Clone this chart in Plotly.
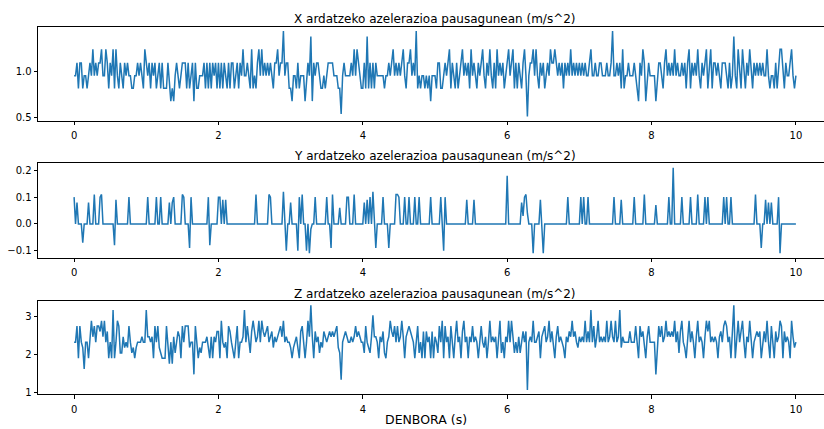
import numpy as np
import plotly.graph_objects as go

# Sampling interval of the accelerometer log (seconds)
DT = 0.02

# X-axis acceleration at rest, one row per 0.5 s (25 samples)
accel_x = [
    0.96, 0.96, 1.1, 0.82, 1.1, 1.1, 0.82, 0.96, 0.96, 0.82, 0.96, 1.1, 0.96, 1.25, 0.96, 1.1, 0.96, 1.1, 1.1, 1.25, 0.96, 0.96, 1.25, 1.1, 0.82,
    1.1, 0.96, 1.25, 0.82, 1.25, 0.96, 0.82, 1.1, 0.96, 0.82, 1.1, 0.96, 1.1, 0.96, 0.96, 0.82, 0.82, 0.96, 0.96, 1.1, 0.96, 1.1, 0.96, 0.82, 1.25,
    1.1, 0.96, 1.1, 0.82, 1.1, 0.96, 1.1, 0.82, 0.96, 1.1, 0.82, 1.1, 0.82, 0.82, 0.82, 1.1, 0.82, 0.68, 0.82, 0.68, 0.96, 1.1, 0.96, 0.82, 0.96,
    1.1, 1.1, 1.1, 0.82, 1.1, 0.82, 0.96, 1.1, 0.68, 1.1, 0.82, 0.82, 0.96, 0.96, 0.96, 1.1, 0.82, 1.1, 0.82, 1.1, 0.82, 1.1, 0.96, 1.1, 0.82,
    1.1, 0.82, 1.1, 0.82, 1.1, 0.96, 0.82, 1.1, 0.82, 1.1, 1.1, 0.82, 0.96, 1.1, 0.82, 1.1, 0.96, 1.25, 0.96, 0.96, 1.1, 0.96, 0.82, 1.25, 0.82,
    0.96, 0.82, 1.1, 1.25, 0.96, 1.25, 0.96, 1.1, 0.96, 1.1, 0.96, 1.1, 0.96, 0.82, 1.1, 1.1, 1.25, 0.96, 1.1, 1.1, 1.45, 0.96, 1.1, 1.1, 0.82,
    0.82, 0.68, 0.96, 0.96, 0.82, 1.1, 0.82, 0.96, 0.96, 0.96, 0.68, 0.96, 1.1, 0.96, 1.39, 0.68, 1.1, 0.96, 1.1, 1.1, 0.96, 0.82, 0.82, 0.96, 0.82,
    0.96, 1.1, 1.1, 1.1, 1.1, 0.96, 0.96, 0.96, 0.82, 0.82, 0.54, 0.96, 1.1, 0.96, 0.96, 0.96, 0.96, 1.1, 0.96, 1.25, 0.96, 1.25, 1.1, 0.96, 0.82,
    0.82, 1.1, 0.82, 1.39, 0.82, 1.1, 0.82, 1.1, 0.82, 1.1, 0.96, 0.96, 0.96, 0.96, 0.96, 0.82, 0.96, 0.96, 1.1, 0.96, 1.1, 1.25, 0.96, 1.1, 0.96,
    1.1, 0.96, 1.1, 1.25, 0.96, 0.82, 1.1, 1.1, 1.25, 0.96, 1.1, 0.96, 1.45, 0.82, 0.96, 0.82, 0.96, 0.96, 0.82, 0.96, 0.82, 0.96, 0.68, 0.96, 0.96,
    0.96, 0.82, 1.1, 1.1, 0.82, 0.82, 0.96, 1.1, 0.96, 1.1, 1.25, 0.82, 1.1, 0.96, 0.82, 1.1, 0.82, 0.96, 1.1, 1.25, 0.96, 1.1, 0.96, 1.1, 0.82,
    1.25, 0.96, 1.1, 0.96, 0.82, 1.1, 0.96, 1.1, 1.25, 0.96, 0.82, 1.1, 0.96, 1.25, 0.96, 0.82, 1.1, 0.82, 1.25, 0.96, 1.1, 0.96, 1.1, 0.82, 0.96,
    1.1, 1.25, 0.96, 1.1, 1.25, 0.82, 1.1, 0.82, 1.1, 0.96, 0.82, 1.1, 1.25, 0.96, 0.51, 0.96, 1.1, 1.1, 1.25, 0.96, 1.25, 0.96, 0.82, 1.1, 0.96,
    1.1, 0.82, 0.96, 1.1, 0.96, 1.25, 1.1, 1.1, 1.25, 1.1, 0.96, 1.1, 0.96, 1.1, 0.82, 1.1, 0.96, 1.1, 0.96, 1.25, 0.96, 1.1, 0.96, 1.1, 0.96,
    1.1, 0.96, 1.1, 0.96, 1.1, 0.96, 0.96, 1.1, 1.25, 0.96, 0.96, 1.1, 0.96, 0.96, 1.1, 1.1, 0.96, 0.96, 0.96, 1.1, 0.96, 0.96, 1.1, 1.45, 0.96,
    0.96, 1.1, 0.96, 1.1, 0.82, 1.25, 0.82, 0.96, 0.96, 1.1, 0.96, 0.96, 0.96, 1.1, 0.96, 0.82, 0.68, 1.1, 0.96, 1.25, 1.1, 0.68, 0.96, 1.1, 0.96,
    0.96, 0.96, 0.96, 0.68, 0.96, 1.1, 1.1, 0.96, 0.82, 1.1, 1.25, 0.96, 1.1, 0.96, 1.1, 0.96, 1.25, 0.96, 1.1, 0.96, 0.96, 1.1, 0.96, 1.1, 0.82,
    1.1, 1.25, 0.82, 1.1, 0.96, 1.1, 0.96, 1.25, 0.96, 0.82, 1.1, 0.96, 1.1, 1.25, 0.82, 1.1, 1.25, 0.82, 1.1, 1.1, 0.96, 1.1, 0.96, 0.82, 1.1,
    1.1, 1.1, 0.96, 0.82, 1.1, 0.82, 0.96, 1.39, 0.96, 0.82, 1.25, 0.96, 0.82, 1.25, 0.96, 0.82, 1.1, 0.96, 1.25, 0.96, 0.82, 1.1, 0.96, 1.1, 0.96,
    1.1, 0.96, 1.1, 0.96, 0.96, 1.25, 0.96, 0.82, 0.96, 0.96, 0.82, 1.1, 0.82, 1.1, 1.25, 1.25, 0.96, 0.82, 1.1, 0.96, 0.96, 1.1, 1.25, 0.96, 0.82,
    0.96,
]

# Y-axis acceleration at rest, groups of 5 samples per 0.1 s
accel_y = [
    0.1, 0, 0.08, 0, 0,   0, -0.07, 0, 0, 0,   0.08, 0, 0, 0, 0.11,   0, 0, 0, 0.1, 0.11,   0, 0, 0, 0, 0,
    0, 0, 0, -0.08, 0.09,   0, 0, 0, 0, 0,   0, 0, 0, 0.1, 0,   0, 0, 0, 0, 0,   0, 0, 0, 0, 0,
    0, 0.1, 0, 0, 0,   0, 0, 0.1, 0, 0,   0.1, 0, 0, 0, 0,   0, 0.08, 0, 0.08, 0.1,   0, 0, 0, 0, 0,
    0.11, 0.1, 0, 0, 0,   -0.09, 0.1, 0, 0, 0,   0, 0, 0, 0, 0,   0, 0, 0, 0.1, -0.08,   0, 0, 0, 0, 0,
    0.1, 0.1, 0, 0.09, 0,   0.09, 0, 0, 0, 0,   0, 0, 0, 0, 0,   0, 0, 0, 0, 0,   0, 0, 0, 0, 0,
    0, 0.11, 0, 0, 0,   0, 0, 0, 0, 0,   0.11, 0.1, 0, 0, 0,   0, 0, 0, 0, 0,   0.12, 0, -0.1, 0, 0,
    0.08, 0, 0, 0, 0,   -0.1, 0.1, 0, 0.11, 0,   0, -0.1, 0, -0.11, -0.02,   0, 0, 0.1, 0, 0,   0, 0, 0, 0, 0,
    0.1, 0, 0, -0.09, 0.11,   0, 0, 0, 0, 0.06,   0, 0, 0, 0, 0.1,   0.1, 0, 0, 0, 0.11,   0, 0, 0, 0, 0,
    0, 0.08, 0, 0.09, 0,   0.1, 0, 0.12, 0, -0.09,   0, 0, 0, 0, 0.1,   0, 0, 0, -0.09, 0,   0, 0, 0, 0.11, 0.11,
    0.1, 0, 0, 0, 0.1,   0, 0, 0.1, 0, 0,   0, 0.1, 0, 0, 0.1,   0, 0, 0, 0, 0,   0, 0, 0.1, 0, 0,
    0, 0, 0, 0, 0.1,   0, -0.1, 0.1, 0, 0,   0, 0, 0, 0, 0,   0, 0, 0, 0, 0,   0, 0, 0.09, 0, 0,
    0, 0, 0.09, 0, 0,   0, 0, 0, 0, 0,   0, 0, 0, 0, 0,   0, 0, 0, 0, 0,   0, 0, 0, 0, 0,
    0.18, 0, 0, 0, 0,   0, 0, 0, 0, 0,   0.08, 0.03, 0.1, 0.11, 0.04,   0, 0, 0, -0.11, 0,   0, 0, 0, 0.09, 0,
    -0.11, 0, 0, 0, 0,   0, 0, 0, 0, 0,   0, 0, 0, 0, 0,   0, 0, 0.1, 0, 0,   0, 0, 0, 0, 0,
    0, 0.1, 0, 0.1, 0,   0, 0.1, 0, 0, 0,   0, 0, 0, 0, 0,   0, 0, 0, 0, 0,   0, 0, 0, 0, 0.1,
    0, 0, 0, 0, 0.09,   0, 0, 0, 0, 0,   0, 0, 0, 0.1, 0,   0, 0, 0, 0, 0,   0.11, 0, 0, 0, 0,
    0, 0, 0, 0.07, 0,   0, 0, 0, 0, 0,   0, 0, 0.1, 0, 0,   0.21, 0, 0, 0, 0,   0, 0.1, 0, 0, 0,
    0, 0, 0.1, 0, 0,   0, 0, 0.11, 0, 0,   0, 0, 0.1, 0, 0.1,   0, 0, 0, 0, 0,   0, 0, 0, 0, 0,
    0.1, 0, 0.1, 0, 0,   0.1, 0, 0, 0, 0,   0, 0, 0, 0, 0,   0, 0, 0, 0, 0,   0, 0, 0.11, 0, 0,
    0, -0.09, 0, 0, 0.09,   0, 0.08, 0, 0.08, 0,   0, 0, 0, 0.1, -0.11,   0, 0, 0, 0, 0,   0, 0, 0, 0, 0,
    0,
]

# Z-axis acceleration at rest, one row per 0.5 s
accel_z = [
    2.32, 2.32, 2.74, 1.9, 2.74, 2.32, 2.18, 1.62, 2.32, 2.32, 1.9, 2.32, 2.88, 2.46, 2.74, 2.32, 2.74, 2.74, 2.6, 2.88, 2.46, 2.88, 2.32, 2.6, 1.9,
    2.32, 1.9, 3.16, 1.9, 2.32, 2.88, 2.74, 2.04, 2.04, 2.46, 2.18, 2.32, 2.18, 2.74, 2.32, 2.04, 2.18, 1.9, 2.18, 2.32, 2.32, 2.32, 2.46, 2.32, 2.32,
    3.16, 2.46, 2.46, 2.32, 2.46, 1.9, 2.74, 2.32, 2.74, 2.18, 2.04, 1.9, 1.9, 1.9, 2.74, 2.32, 1.76, 2.32, 1.76, 2.46, 2.04, 2.32, 2.6, 2.46, 1.9,
    2.74, 2.32, 2.74, 2.74, 2.74, 2.18, 2.32, 2.32, 1.48, 2.74, 2.32, 1.9, 2.18, 2.04, 2.32, 2.32, 2.32, 2.46, 2.18, 1.9, 2.46, 1.9, 2.46, 2.32, 2.6,
    2.6, 1.9, 2.88, 2.32, 2.18, 2.32, 1.9, 2.74, 2.6, 2.32, 2.04, 1.9, 2.32, 2.74, 1.9, 2.32, 2.32, 2.46, 3.16, 2.32, 2.74, 2.32, 2.04, 2.6, 2.88,
    2.6, 2.32, 2.46, 2.88, 2.32, 2.88, 2.6, 2.46, 2.6, 2.74, 2.32, 2.46, 2.6, 2.18, 2.46, 2.32, 2.46, 2.6, 2.74, 2.46, 2.88, 2.32, 2.46, 2.32, 2.32,
    2.18, 1.9, 2.18, 2.32, 2.46, 2.18, 1.9, 2.6, 2.74, 2.32, 1.9, 2.32, 2.88, 2.46, 3.28, 2.46, 1.9, 2.6, 2.32, 2.46, 2.04, 2.32, 2.18, 2.6, 2.46,
    2.32, 2.46, 2.6, 2.46, 2.6, 2.46, 2.6, 2.74, 2.18, 2.04, 1.34, 2.32, 2.46, 2.6, 2.46, 2.32, 2.32, 2.46, 2.32, 2.46, 2.74, 2.46, 2.6, 2.46, 2.32,
    2.32, 2.04, 2.74, 2.32, 2.18, 2.04, 2.46, 3.02, 2.46, 2.46, 2.32, 1.9, 2.46, 2.32, 2.6, 2.04, 1.9, 2.32, 2.46, 2.88, 2.6, 2.46, 2.74, 2.32, 2.74,
    2.32, 2.46, 2.88, 2.46, 1.9, 2.46, 2.6, 2.74, 2.6, 2.46, 2.32, 1.9, 2.32, 2.74, 2.04, 2.32, 1.9, 2.6, 1.9, 2.6, 2.32, 2.46, 1.9, 2.6, 1.9,
    2.46, 2.32, 2.04, 2.74, 2.32, 2.88, 1.9, 2.74, 2.32, 2.46, 1.9, 2.74, 2.32, 1.9, 2.46, 2.88, 2.32, 2.46, 1.9, 2.6, 2.88, 2.32, 2.46, 1.9, 2.46,
    2.32, 2.74, 2.32, 2.46, 2.32, 1.9, 2.46, 2.74, 2.32, 2.18, 2.46, 1.9, 2.32, 2.88, 2.32, 2.46, 2.32, 2.46, 1.9, 2.32, 2.88, 2.04, 2.32, 1.9, 2.46,
    2.32, 2.88, 2.32, 2.88, 2.46, 2.04, 2.32, 2.04, 2.46, 2.04, 2.32, 2.6, 2.32, 2.6, 1.07, 2.32, 2.46, 2.32, 2.88, 2.32, 2.32, 2.46, 2.6, 1.9, 2.46,
    2.6, 2.74, 2.32, 2.46, 2.88, 2.32, 2.6, 2.32, 1.9, 2.46, 2.74, 2.32, 2.46, 2.32, 2.18, 1.9, 2.46, 2.32, 2.6, 2.46, 2.88, 2.46, 2.6, 2.32, 2.18,
    2.46, 2.32, 2.46, 2.32, 2.88, 2.32, 2.6, 2.32, 3.16, 2.32, 2.74, 2.18, 2.46, 2.88, 2.32, 2.46, 2.32, 2.46, 2.32, 2.88, 2.32, 2.46, 2.88, 2.46, 2.32,
    2.88, 2.32, 2.46, 3.16, 2.18, 2.46, 2.32, 2.32, 2.32, 2.32, 2.6, 2.32, 2.32, 2.32, 2.74, 2.32, 1.9, 2.74, 2.46, 2.6, 2.32, 1.9, 2.46, 2.74, 2.32,
    2.32, 2.32, 2.32, 1.48, 2.32, 2.74, 2.46, 2.74, 2.32, 2.46, 2.88, 2.46, 2.6, 2.46, 2.6, 2.46, 2.88, 2.32, 2.6, 2.04, 2.6, 2.88, 2.32, 2.18, 1.9,
    2.46, 2.88, 2.32, 2.6, 2.32, 1.9, 2.46, 2.88, 2.32, 2.46, 2.32, 1.9, 2.46, 2.88, 2.6, 2.88, 2.32, 2.46, 2.32, 2.46, 2.32, 1.9, 2.46, 2.6, 2.32,
    2.74, 2.88, 2.74, 2.32, 2.46, 1.9, 2.6, 3.28, 1.9, 2.46, 2.88, 2.32, 2.6, 2.88, 2.32, 1.9, 2.46, 2.32, 2.88, 2.32, 1.9, 2.32, 2.46, 2.6, 2.46,
    2.6, 1.9, 2.32, 2.6, 2.32, 2.88, 2.32, 1.9, 2.74, 2.32, 1.9, 2.6, 2.32, 2.46, 2.88, 2.74, 1.9, 2.6, 2.32, 2.46, 2.32, 1.9, 2.88, 2.46, 2.18,
    2.32,
]

titles = [
    "X ardatzeko azelerazioa pausagunean (m/s^2)",
    "Y ardatzeko azelerazioa pausagunean (m/s^2)",
    "Z ardatzeko azelerazioa pausagunean (m/s^2)",
]
x_label = "DENBORA (s)"
x_ticks = [0, 2, 4, 6, 8, 10]
y_tick_vals = [[0.5, 1.0], [-0.1, 0.0, 0.1, 0.2], [1, 2, 3]]
y_tick_text = [["0.5", "1.0"], ["\u22120.1", "0.0", "0.1", "0.2"], ["1", "2", "3"]]

series = [accel_x, accel_y, accel_z]
for s in series:
    assert len(s) == 501, len(s)

time = np.arange(len(accel_x)) * DT

W, H = 824, 429
FONT = "DejaVu Sans"
LINE = "#1f77b4"

# The axes boxes run from x=38 px to x=832 px, a little past the page edge,
# so only the part up to x=824 is visible (no right-hand frame line).
AX_LEFT, AX_RIGHT = 38, 832
x_dom = [AX_LEFT / W, 1.0]
panels = [(27, 122), (165, 260), (304, 398)]


def padded(lo, hi, frac=0.05):
    span = hi - lo
    return [lo - frac * span, hi + frac * span]


# Full padded time range, then clipped to the visible part of the axes box
t_lo, t_hi = padded(float(time.min()), float(time.max()))
t_vis_hi = t_lo + (t_hi - t_lo) * (W - AX_LEFT) / (AX_RIGHT - AX_LEFT)
centre_x = (AX_LEFT + AX_RIGHT) / 2 / W

fig = go.Figure()
annotations = []
for i, (vals, (top, bot)) in enumerate(zip(series, panels)):
    n = "" if i == 0 else str(i + 1)
    fig.add_trace(go.Scatter(
        x=time, y=vals, mode="lines",
        line=dict(color=LINE, width=1.5),
        xaxis="x" + n, yaxis="y" + n, showlegend=False,
    ))
    axis_common = dict(
        showline=True, linecolor="black", linewidth=0.8,
        ticks="outside", ticklen=3.5, tickwidth=0.8, tickcolor="black",
        showgrid=False, zeroline=False,
        tickfont=dict(family=FONT, size=10, color="black"),
    )
    fig.update_layout(**{
        "xaxis" + n: dict(
            domain=x_dom, anchor="y" + n, mirror=True,
            range=[t_lo, t_vis_hi],
            tickvals=x_ticks, ticktext=[str(v) for v in x_ticks],
            ticklabelstandoff=2,
            **axis_common,
        ),
        "yaxis" + n: dict(
            domain=[1 - bot / H, 1 - top / H], anchor="x" + n, mirror=False,
            range=padded(min(vals), max(vals)),
            tickvals=y_tick_vals[i], ticktext=y_tick_text[i],
            **axis_common,
        ),
    })
    annotations.append(dict(
        text=titles[i], xref="paper", yref="paper",
        x=centre_x, y=1 - top / H,
        xanchor="center", yanchor="bottom", yshift=-1.5, showarrow=False,
        font=dict(family=FONT, size=12, color="black"),
    ))

# Shared time label, centred on the whole figure
annotations.append(dict(
    text=x_label, xref="paper", yref="paper",
    x=426 / W, y=1 - 423 / H,
    xanchor="center", yanchor="middle", showarrow=False,
    font=dict(family=FONT, size=12.5, color="black"),
))

fig.update_layout(
    width=W, height=H,
    margin=dict(l=0, r=0, t=0, b=0),
    paper_bgcolor="white", plot_bgcolor="white",
    annotations=annotations,
    font=dict(family=FONT, color="black"),
)

fig.write_html("out.html")
